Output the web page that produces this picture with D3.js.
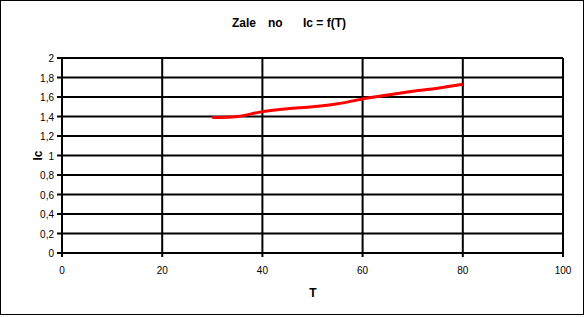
<!DOCTYPE html>
<html>
<head>
<meta charset="utf-8">
<script src="https://cdn.jsdelivr.net/npm/d3@7"></script>
<style>
  html, body { margin: 0; padding: 0; background: #fff; }
  text { font-family: "Liberation Sans", Arial, sans-serif; }
</style>
</head>
<body>
<div id="chart"></div>
<script>
// Data.
const temps = [30, 35, 40, 45, 50, 55, 60, 65, 70, 75, 80];
const icValues = [1.39, 1.40, 1.45, 1.48, 1.50, 1.53, 1.58, 1.62, 1.66, 1.69, 1.73];
const xTicks = [0, 20, 40, 60, 80, 100];
const yTicks = [0, 0.2, 0.4, 0.6, 0.8, 1, 1.2, 1.4, 1.6, 1.8, 2];

const width = 586, height = 317;
const margin = { top: 58, right: 23, bottom: 64, left: 62 };

const svg = d3.select('#chart').append('svg')
  .attr('width', width)
  .attr('height', height);

// Outer frame.
svg.append('rect')
  .attr('x', 0.5).attr('y', 0.5)
  .attr('width', width - 3).attr('height', height - 3)
  .attr('fill', 'none')
  .attr('stroke', '#000');

const x = d3.scaleLinear().domain([0, 100]).range([margin.left, width - margin.right]);
const y = d3.scaleLinear().domain([0, 2]).range([height - margin.bottom, margin.top]);

// Grid lines.
svg.append('g')
  .selectAll('line')
  .data(yTicks)
  .join('line')
  .attr('x1', x(0) - 5).attr('x2', x(100))
  .attr('y1', d => y(d)).attr('y2', d => y(d))
  .attr('stroke', '#000').attr('stroke-width', 2);

svg.append('g')
  .selectAll('line')
  .data(xTicks)
  .join('line')
  .attr('x1', d => x(d)).attr('x2', d => x(d))
  .attr('y1', y(2)).attr('y2', y(0) + 4)
  .attr('stroke', '#000').attr('stroke-width', 2);

// Tick labels.
svg.append('g')
  .selectAll('text')
  .data(yTicks)
  .join('text')
  .attr('x', x(0) - 8)
  .attr('y', d => y(d) + 4)
  .attr('text-anchor', 'end')
  .attr('font-size', 10)
  .text(d => String(d).replace('.', ','));

svg.append('g')
  .selectAll('text')
  .data(xTicks)
  .join('text')
  .attr('x', d => x(d))
  .attr('y', y(0) + 21)
  .attr('text-anchor', 'middle')
  .attr('font-size', 10)
  .text(d => d);

// Series line.
const line = d3.line()
  .x((d, i) => x(temps[i]))
  .y(d => y(d))
  .curve(d3.curveCatmullRom);

svg.append('path')
  .datum(icValues)
  .attr('fill', 'none')
  .attr('stroke', '#ff0000')
  .attr('stroke-width', 3)
  .attr('d', line);

// Titles.
const title = svg.append('text')
  .attr('y', 27)
  .attr('font-size', 12).attr('font-weight', 'bold');
title.append('tspan').attr('x', 232).text('Zale');
title.append('tspan').attr('x', 268).text('no');
title.append('tspan').attr('x', 303).text('Ic = f(T)');

svg.append('text')
  .attr('x', 313).attr('y', 297)
  .attr('text-anchor', 'middle')
  .attr('font-size', 12).attr('font-weight', 'bold')
  .text('T');

svg.append('text')
  .attr('transform', 'translate(42,' + (y(1)) + ') rotate(-90)')
  .attr('text-anchor', 'middle')
  .attr('font-size', 12).attr('font-weight', 'bold')
  .text('Ic');
</script>
</body>
</html>
